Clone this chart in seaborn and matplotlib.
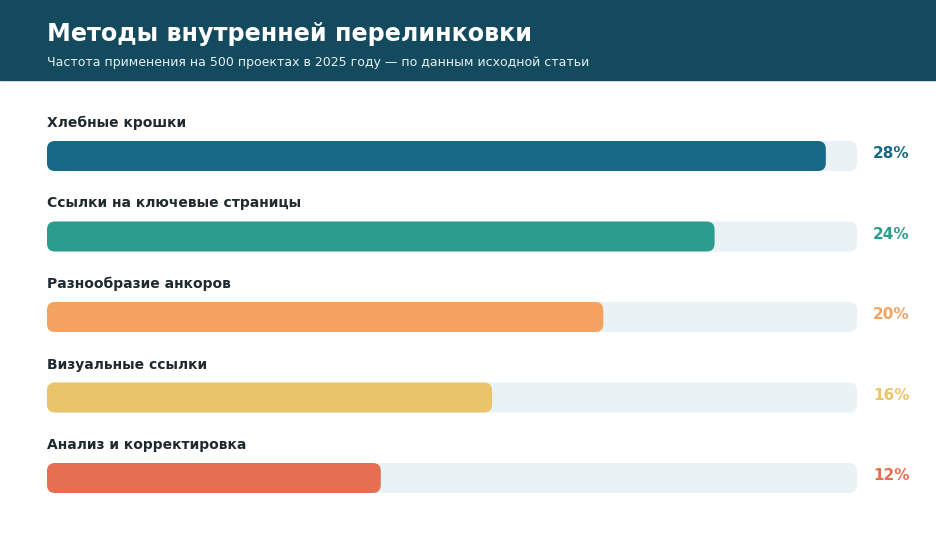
import matplotlib
matplotlib.use('Agg')
import matplotlib.pyplot as plt
from matplotlib.patches import FancyBboxPatch, Rectangle
import seaborn as sns
import pandas as pd

# data
methods = ['Хлебные крошки', 'Ссылки на ключевые страницы', 'Разнообразие анкоров',
           'Визуальные ссылки', 'Анализ и корректировка']
shares = [28, 24, 20, 16, 12]
colors = ['#176985', '#2a9d8f', '#f4a261', '#e9c46a', '#e76f51']

title = 'Методы внутренней перелинковки'
subtitle = 'Частота применения на 500 проектах в 2025 году — по данным исходной статьи'

W, H = 936, 536
x_max = max(shares) * 1.04
track_col = '#e9f2f5'
text_col = '#1f2a30'
header_col = '#134a5e'

sns.set_theme(style='white')
plt.rcParams['font.family'] = ['DejaVu Sans']

fig = plt.figure(figsize=(W / 100, H / 100), dpi=100)
fig.patch.set_facecolor('white')

# header band
fig.patches.append(Rectangle((0, 1 - 80 / H), 1, 80 / H, transform=fig.transFigure,
                             color=header_col, zorder=0))
fig.text(47 / W, 1 - 34 / H, title, color='white', fontsize=17.2, fontweight='bold', va='center')
fig.text(47 / W, 1 - 62 / H, subtitle, color='#e6f0f3', fontsize=9, va='center')

# bar area: bar centres at 156 .. 478 px
step = (478 - 156) / 4
top_px = 156 - step / 2
bot_px = 478 + step / 2
ax = fig.add_axes([47 / W, 1 - bot_px / H, 810 / W, (bot_px - top_px) / H])

df = pd.DataFrame({'method': methods, 'share': shares})
bar_h = 30 / step
sns.barplot(data=df.assign(track=x_max), x='track', y='method', orient='h',
            color=track_col, width=bar_h, ax=ax, saturation=1)
sns.barplot(data=df, x='share', y='method', hue='method', orient='h', palette=colors,
            width=bar_h, ax=ax, saturation=1, legend=False)
ax.set_xlim(0, x_max)
ax.set_ylim(len(methods) - 0.5, -0.5)

# turn the rectangles into rounded bars
px_x = 810 / x_max
px_y = step
radius = 8 / px_x
aspect = px_x / px_y
for p in list(ax.patches):
    x0, y0 = p.get_x(), p.get_y()
    w, h = p.get_width(), p.get_height()
    fc = p.get_facecolor()
    z = p.get_zorder()
    p.remove()
    ax.add_patch(FancyBboxPatch((x0, y0), w, h,
                                boxstyle=f'round,pad=0,rounding_size={radius}',
                                mutation_aspect=aspect, facecolor=fc, edgecolor='none',
                                zorder=z))

for i, (m, v, c) in enumerate(zip(methods, shares, colors)):
    ax.text(0, i - 33 / step, m, fontsize=10, fontweight='bold', color=text_col,
            va='center', ha='left')
    ax.annotate(f'{v}%', (x_max, i), xytext=(11.5, 1.5), textcoords='offset points',
                fontsize=11, fontweight='bold', color=c, va='center', ha='left',
                annotation_clip=False)

ax.axis('off')
fig.savefig('out.png', dpi=100)
